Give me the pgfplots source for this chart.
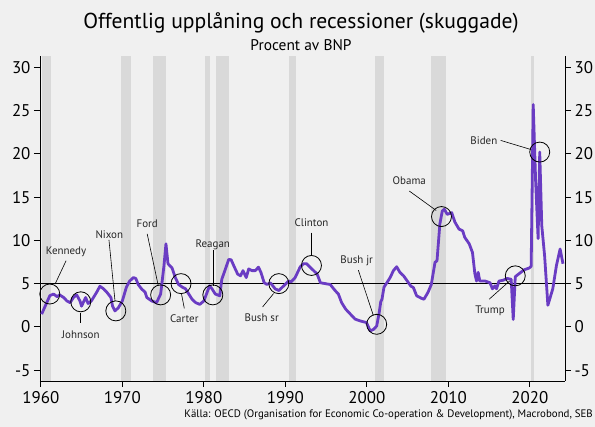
\documentclass[border=0pt]{standalone}
\usepackage{pgfplots}
\usepackage{pgfplotstable}
\pgfplotsset{compat=1.18}
\usepackage{fontspec}
\setmainfont{PT Sans}
\definecolor{bg}{HTML}{F0F0F0}
\definecolor{band}{HTML}{D9D9D9}
\definecolor{purp}{HTML}{6A3CC3}
\pgfplotstableread{
x y
1960.1 1.47
1961.1 3.6
1961.55 3.8
1962.0 3.5
1962.3 3.7
1962.8 3.4
1963.2 3.0
1963.6 2.8
1964.0 3.4
1964.4 3.7
1964.8 3.0
1965.0 2.4
1965.3 3.0
1965.5 3.4
1965.8 2.7
1966.2 3.0
1966.85 4.0
1967.25 4.7
1967.7 4.4
1968.1 4.0
1968.6 3.4
1968.8 2.4
1969.1 1.85
1969.5 2.2
1970.0 3.0
1970.5 4.6
1970.9 5.3
1971.35 5.7
1971.65 5.6
1971.95 4.9
1972.35 4.4
1972.8 4.0
1973.0 3.4
1973.6 3.0
1974.2 2.8
1974.7 3.8
1975.1 7.0
1975.35 9.6
1975.6 7.3
1976.1 6.8
1976.5 5.7
1976.9 4.9
1977.35 4.6
1977.75 4.4
1978.15 3.8
1978.55 3.2
1979.0 2.8
1979.5 2.6
1980.0 3.0
1980.4 4.0
1980.7 4.75
1981.0 4.4
1981.4 3.8
1981.95 3.6
1982.2 5.5
1982.65 6.7
1983.05 7.8
1983.35 7.75
1983.75 6.9
1984.15 6.1
1984.5 5.9
1984.8 6.5
1985.2 5.7
1985.5 6.7
1985.9 6.5
1986.3 6.5
1986.7 6.9
1987.0 6.3
1987.4 5.1
1987.75 4.9
1988.15 5.1
1988.75 4.4
1989.2 4.2
1989.8 4.75
1990.4 5.3
1990.7 5.2
1991.2 5.7
1991.8 6.9
1992.2 7.3
1992.6 7.3
1993.25 6.7
1993.9 6.1
1994.3 5.1
1994.9 5.0
1995.5 4.9
1996.1 4.2
1996.5 3.8
1996.9 2.8
1997.4 2.05
1997.95 1.5
1998.55 0.9
1999.15 0.7
1999.95 0.5
2000.4 -0.45
2000.8 -0.3
2001.2 0.1
2001.5 1.6
2001.7 2.9
2001.85 3.2
2002.1 4.6
2002.45 5.1
2002.85 5.7
2003.25 6.5
2003.65 6.95
2004.05 6.3
2004.5 5.9
2005.1 5.1
2005.4 4.7
2005.7 4.55
2006.1 3.6
2006.7 3.3
2007.0 3.2
2007.5 4.0
2007.9 4.9
2008.35 7.45
2008.6 7.65
2008.95 11.9
2009.25 13.4
2009.5 13.6
2009.85 13.0
2010.4 13.2
2010.8 12.1
2011.3 11.3
2011.75 11.1
2012.0 10.35
2012.55 9.6
2012.95 8.6
2013.25 6.1
2013.45 5.3
2013.65 6.3
2013.85 5.3
2014.5 5.3
2015.1 5.1
2015.4 4.4
2015.7 4.75
2015.9 4.4
2016.2 5.3
2016.75 5.4
2017.2 5.6
2017.7 5.5
2017.95 0.85
2018.2 5.8
2018.6 6.1
2019.3 6.6
2019.9 6.8
2020.15 7.0
2020.4 25.7
2020.7 16.8
2021.0 10.2
2021.2 20.2
2021.45 11.7
2021.8 8.2
2022.2 2.5
2022.8 4.4
2023.25 7.1
2023.7 9.0
2024.05 7.3
}\debt
\pgfplotstableread{
x y
1961.1 3.8
1964.9 2.9
1969.2 1.85
1974.7 3.7
1977.2 5.0
1981.1 3.7
1989.2 5.0
1993.2 7.1
2001.2 0.3
2009.15 12.75
2018.2 5.9
2021.2 20.2
}\circles
\newcommand{\band}[2]{\addplot[fill=band, draw=none, forget plot] coordinates {(#1,-6.25) (#1,31.3) (#2,31.3) (#2,-6.25)} -- cycle;}
\newcommand{\ann}[4]{\addplot[black, line width=0.6bp, forget plot] coordinates {(#1,#2) (#3,#4)};}
\begin{document}
\begin{tikzpicture}
\fill[bg] (0,0) rectangle (595bp,427bp);
\useasboundingbox (0,0) rectangle (595bp,427bp);
\node[font=\fontsize{21.7}{25}\selectfont] at (301bp,404bp) {Offentlig upplåning och recessioner (skuggade)};
\node[font=\fontsize{15.5}{18}\selectfont] at (301bp,382bp) {Procent av BNP};
\node[font=\fontsize{10.9}{12}\selectfont, anchor=east, inner sep=0pt] at (593bp,12bp) {Källa: OECD (Organisation for Economic Co-operation \& Development), Macrobond, SEB};
\begin{axis}[
  at={(40bp,46bp)}, anchor=south west,
  scale only axis, width=525bp, height=325bp,
  xmin=1959.9, xmax=2024.3, ymin=-6.25, ymax=31.3,
  axis x line*=bottom, axis y line*=left,
  axis line style={black, line width=0.9bp},
  tick align=outside, major tick length=6bp,
  tick style={black, line width=0.9bp},
  xtick={1960,1970,...,2020}, ytick={-5,0,...,30},
  minor tick num=0,
  /pgf/number format/assume math mode=true,
  /pgf/number format/1000 sep={},
  ticklabel style={font=\fontsize{17}{20}\selectfont},
  xticklabel style={yshift=-1bp},
  clip=true,
]
\band{1960.2}{1961.3}
\band{1969.8}{1971.05}
\band{1973.7}{1975.3}
\band{1980.1}{1980.7}
\band{1981.55}{1983.05}
\band{1990.5}{1991.35}
\band{2001.0}{2002.05}
\band{2007.9}{2009.7}
\band{2020.1}{2020.45}
\addplot[black, line width=1bp, forget plot] coordinates {(1959.9,5) (2024.3,5)};
\addplot[purp, line width=2.8bp, line join=round] table[x=x,y=y] {\debt};
\addplot[only marks, mark=o, mark size=10bp, black, mark options={line width=0.8bp}] table[x=x,y=y] {\circles};
\ann{1963.1}{7.65}{1961.75}{4.95}
\ann{1964.9}{1.65}{1964.9}{0.5}
\ann{1968.36}{10.05}{1969.1}{3.0}
\ann{1973.05}{10.75}{1974.4}{4.8}
\ann{1977.25}{3.85}{1977.6}{2.15}
\ann{1981.1}{8.9}{1981.1}{4.75}
\ann{1987.2}{2.3}{1988.55}{3.85}
\ann{1993.2}{10.9}{1993.2}{8.2}
\ann{1998.95}{6.55}{2000.8}{1.3}
\ann{2005.2}{15.7}{2008.5}{13.45}
\ann{2015.0}{3.2}{2017.5}{5.3}
\ann{2016.4}{21.55}{2020.1}{20.5}
\begin{scope}[every node/.style={font=\fontsize{11}{13}\selectfont, text=black!85}]
\node at (axis cs:1963.1,8.7) {Kennedy};
\node at (axis cs:1964.9,-0.85) {Johnson};
\node at (axis cs:1968.4,10.65) {Nixon};
\node at (axis cs:1973.05,11.9) {Ford};
\node at (axis cs:1977.6,0.9) {Carter};
\node at (axis cs:1981.1,9.5) {Reagan};
\node at (axis cs:1987.1,1.1) {Bush sr};
\node at (axis cs:1993.2,12.0) {Clinton};
\node at (axis cs:1998.75,7.65) {Bush jr};
\node at (axis cs:2005.2,16.9) {Obama};
\node at (axis cs:2015.1,1.9) {Trump};
\node at (axis cs:2014.35,21.55) {Biden};
\end{scope}
\end{axis}
\begin{axis}[
  at={(40bp,46bp)}, anchor=south west,
  scale only axis, width=525bp, height=325bp,
  xmin=1959.9, xmax=2024.3, ymin=-6.25, ymax=31.3,
  axis x line=none, axis y line*=right,
  axis line style={black, line width=0.9bp},
  tick align=outside, major tick length=6bp,
  tick style={black, line width=0.9bp},
  ytick={-5,0,...,30},
  /pgf/number format/assume math mode=true,
  ticklabel style={font=\fontsize{17}{20}\selectfont},
]
\end{axis}
\end{tikzpicture}
\end{document}
